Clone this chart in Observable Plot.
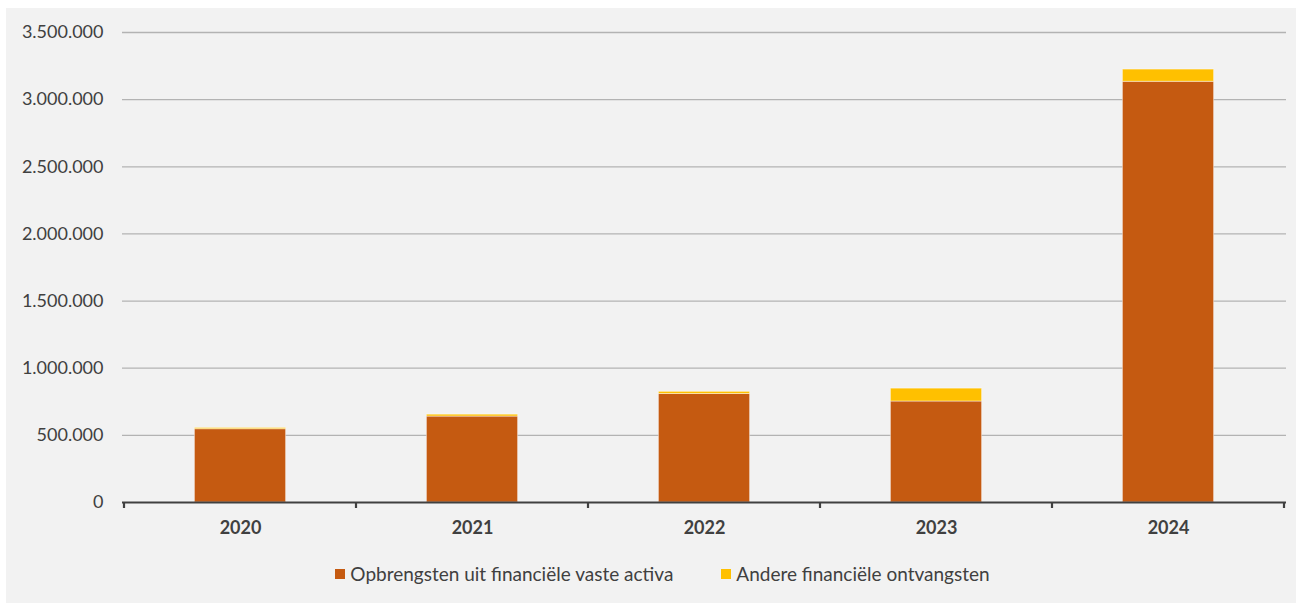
<!DOCTYPE html>
<html>
<head>
<meta charset="utf-8">
<script src="https://cdn.jsdelivr.net/npm/d3@7"></script>
<script src="https://cdn.jsdelivr.net/npm/@observablehq/plot@0.6"></script>
<style>
  html, body { margin: 0; padding: 0; background: #ffffff; }
  #panel { position: absolute; left: 6px; top: 8px; width: 1290px; height: 595px; background: #f2f2f2; }
  #legend { display: flex; justify-content: center; align-items: center; gap: 48px; margin-top: 11px; margin-left: 23px;
            font-family: Lato, "Open Sans", sans-serif; font-size: 19px; color: #404040; line-height: 20px; }
  .item { display: flex; align-items: center; }
  .sw { width: 10px; height: 10px; margin-right: 5px; display: inline-block; }
</style>
</head>
<body>
<div id="panel"><div id="chart"></div><div id="legend"></div></div>
<script>
const years = ["2020", "2021", "2022", "2023", "2024"];
const seriesNames = ["Opbrengsten uit financiële vaste activa", "Andere financiële ontvangsten"];
const opbrengsten = [546000, 640000, 808000, 752000, 3133000];
const andere = [9000, 14000, 16000, 96000, 91000];
const colors = ["#c55a11", "#ffc000"];
const yTicks = [0, 500000, 1000000, 1500000, 2000000, 2500000, 3000000, 3500000];

const rows = [];
years.forEach((y, i) => {
  rows.push({year: y, series: seriesNames[0], value: opbrengsten[i]});
  rows.push({year: y, series: seriesNames[1], value: andere[i]});
});

const fmt = d3.formatLocale({decimal: ",", thousands: ".", grouping: [3], currency: ["", ""]}).format(",");

const plot = Plot.plot({
  width: 1290,
  height: 545,
  marginLeft: 116,
  marginRight: 10,
  marginTop: 24,
  marginBottom: 51,
  style: {background: "transparent", fontFamily: "Lato, 'Open Sans', sans-serif", color: "#404040"},
  x: {domain: years, padding: 0, label: null},
  y: {domain: [0, 3500000], label: null},
  color: {domain: seriesNames, range: colors},
  marks: [
    Plot.ruleY(yTicks.slice(1), {stroke: "#b3b3b3", strokeWidth: 1.3}),
    Plot.axisY({ticks: yTicks, tickFormat: fmt, tickSize: 0, tickPadding: 19, fontSize: 18, label: null, fill: "#404040"}),
    Plot.barY(rows, {x: "year", y: "value", fill: "series", order: seriesNames,
      insetLeft: 70.4, insetRight: 70.4, stroke: "#ffffff", strokeOpacity: 0.45, strokeWidth: 1}),
    Plot.ruleY([0], {stroke: "#404040", strokeWidth: 2.2}),
    Plot.axisX({tickSize: 0, tickPadding: 19, fontSize: 18, fontWeight: "bold", label: null, fill: "#404040"})
  ]
});

// boundary tick marks on the category axis, placed with the plot's own scales
const xs = plot.scale("x");
const ys = plot.scale("y");
const bw = xs.bandwidth;
const bounds = years.map(y => xs.apply(y)).concat([xs.apply(years[years.length - 1]) + bw]);
const y0 = ys.apply(0);
d3.select(plot).append("g")
  .selectAll("line").data(bounds).join("line")
  .attr("x1", d => d).attr("x2", d => d)
  .attr("y1", y0).attr("y2", y0 + 6)
  .attr("stroke", "#404040").attr("stroke-width", 2.2);

document.getElementById("chart").appendChild(plot);

const legend = d3.select("#legend");
seriesNames.forEach((name, i) => {
  const item = legend.append("div").attr("class", "item");
  item.append("span").attr("class", "sw").style("background", colors[i]);
  item.append("span").text(name);
});
</script>
</body>
</html>
